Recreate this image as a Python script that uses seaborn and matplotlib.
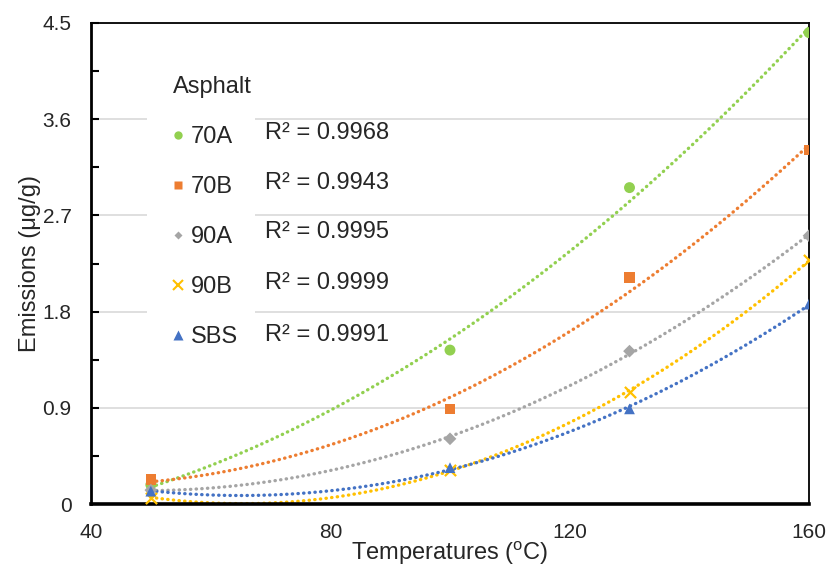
import numpy as np
import pandas as pd
import matplotlib
matplotlib.use("Agg")
import matplotlib.pyplot as plt
import seaborn as sns
from matplotlib.lines import Line2D
from matplotlib.patches import Rectangle
from matplotlib.ticker import MultipleLocator

temps = [50, 100, 130, 160]
series = ["70A", "70B", "90A", "90B", "SBS"]
v70A = [0.18, 1.44, 2.96, 4.41]
v70B = [0.23, 0.89, 2.12, 3.31]
v90A = [0.13, 0.61, 1.43, 2.51]
v90B = [0.06, 0.32, 1.05, 2.28]
vSBS = [0.12, 0.34, 0.89, 1.87]
r2_labels = ["R² = 0.9968", "R² = 0.9943", "R² = 0.9995", "R² = 0.9999", "R² = 0.9991"]
yticks = [0, 0.9, 1.8, 2.7, 3.6, 4.5]
xticks = [40, 80, 120, 160]

colors = {"70A": "#92D050", "70B": "#ED7D31", "90A": "#A5A5A5", "90B": "#FFC000", "SBS": "#4472C4"}
markers = {"70A": "o", "70B": "s", "90A": "D", "90B": "x", "SBS": "^"}
sizes = {"70A": 62, "70B": 55, "90A": 42, "90B": 65, "SBS": 60}

vals = {"70A": v70A, "70B": v70B, "90A": v90A, "90B": v90B, "SBS": vSBS}
df = pd.DataFrame([(s, t, v) for s in series for t, v in zip(temps, vals[s])],
                  columns=["Asphalt", "Temp", "Emission"])

sns.set_style("white")
plt.rcParams["font.family"] = ["Liberation Sans", "DejaVu Sans"]
plt.rcParams["mathtext.fontset"] = "custom"
plt.rcParams["mathtext.rm"] = "Liberation Sans"

FS = 15
FL = 17
W, H = 831, 566

fig = plt.figure(figsize=(8.31, 5.66), dpi=100)
ax = fig.add_axes([91/W, 62/H, 718/W, 481/H])

# trendlines (2nd order polynomial)
xs = np.linspace(50, 160, 200)
for s in series:
    c = np.polyfit(temps, vals[s], 2)
    ax.plot(xs, np.polyval(c, xs), color=colors[s], lw=2.4, linestyle=(0, (0.1, 1.6)),
            dash_capstyle="round", zorder=2)

for s in series:
    sub = df[df.Asphalt == s]
    kw = dict(color=colors[s], marker=markers[s], s=sizes[s], ax=ax, zorder=3, legend=False)
    if markers[s] == "x":
        kw["linewidth"] = 1.6
    else:
        kw["edgecolor"] = "none"
    sns.scatterplot(data=sub, x="Temp", y="Emission", **kw)

ax.set_xlim(40, 160)
ax.set_ylim(0, 4.5)
ax.set_xticks(xticks)
ax.set_yticks(yticks)
ax.set_yticklabels(["0", "0.9", "1.8", "2.7", "3.6", "4.5"])
ax.yaxis.set_minor_locator(MultipleLocator(0.45))
ax.yaxis.grid(True, which="major", color="#D9D9D9", lw=1.2)
ax.set_axisbelow(True)
for sp in ax.spines.values():
    sp.set_color("black")
    sp.set_linewidth(1.3)
ax.spines["bottom"].set_linewidth(2.6)
ax.spines["left"].set_linewidth(2.0)
ax.tick_params(axis="y", which="both", labelsize=FS, direction="in", length=6, width=1.5,
               color="black", pad=14, left=True)
ax.tick_params(axis="x", labelsize=FS, length=0, pad=14)
ax.set_xlabel("Temperatures ($^{\\mathrm{o}}$C)", fontsize=FL, labelpad=-2.5)
ax.set_ylabel("Emissions (μg/g)", fontsize=FL, labelpad=1)

# white legend background (hides gridlines like the original)
bg = Rectangle((147/W, 1 - 362/H), (255 - 147)/W, (362 - 55)/H, transform=fig.transFigure,
               facecolor="white", edgecolor="none", zorder=1.5, clip_on=False)
ax.add_patch(bg)

handles = []
for s in series:
    if markers[s] == "x":
        h = Line2D([], [], color=colors[s], marker="x", linestyle="none", markersize=7, markeredgewidth=1.5)
    else:
        h = Line2D([], [], color=colors[s], marker=markers[s], linestyle="none",
                   markersize={"o": 6, "s": 6, "D": 4.5, "^": 6.5}[markers[s]], markeredgecolor="none")
    handles.append(h)
leg = ax.legend(handles, series, title="Asphalt", loc="upper left",
                bbox_to_anchor=(0.085, 0.933), fontsize=FL, title_fontsize=FL,
                frameon=False,
                labelspacing=1.18, handletextpad=0.35, handlelength=0.4, borderpad=0.4)
leg._legend_box.align = "left"
leg.set_zorder(5)

ys_px = [133, 183, 232, 283, 335]
for lab, yp in zip(r2_labels, ys_px):
    fig.text(265/W, 1 - yp/H, lab, fontsize=FL, va="center", ha="left", zorder=6)

fig.savefig("out.png", dpi=100)
